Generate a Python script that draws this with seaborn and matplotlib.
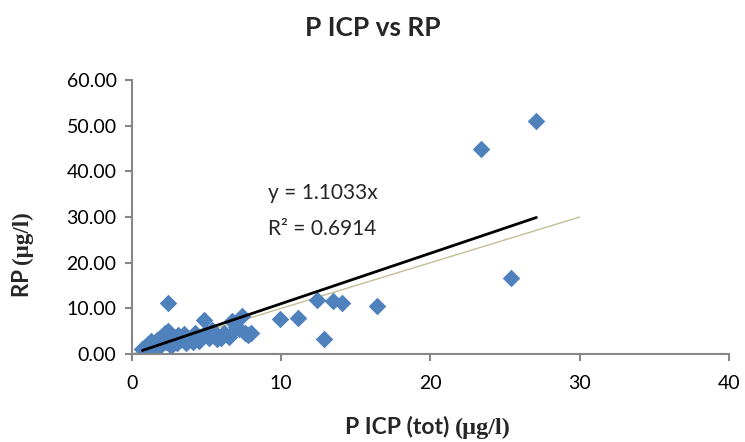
import numpy as np
import pandas as pd
import matplotlib
matplotlib.use("Agg")
import matplotlib.pyplot as plt
import seaborn as sns
from matplotlib.offsetbox import TextArea, HPacker, AnchoredOffsetbox

# data
p_icp = [0.7, 0.9, 1.0, 1.1, 1.2, 1.3, 1.4, 1.5, 1.6, 1.7, 1.8, 1.9, 2.0, 2.1, 2.2,
         2.3, 2.4, 2.5, 2.6, 2.8, 3.0, 3.1, 3.2, 3.4, 3.5, 3.6, 3.8, 4.0, 4.1, 4.2,
         4.4, 4.5, 4.7, 4.8, 5.0, 5.2, 5.4, 5.5, 5.7, 6.0, 6.2, 6.5, 6.7, 7.0, 7.2,
         7.4, 7.6, 7.8, 8.0, 2.4, 9.9, 11.1, 12.4, 13.5, 14.1, 16.4, 12.9, 23.4, 25.4, 27.1]
rp = [1.0, 1.5, 0.8, 2.2, 1.2, 2.8, 1.6, 0.9, 2.4, 3.0, 1.8, 3.5, 2.2, 4.0, 4.5,
      2.6, 5.0, 3.2, 1.8, 3.8, 2.5, 4.2, 3.0, 3.6, 4.4, 2.4, 3.2, 3.8, 2.6, 4.6,
      3.4, 2.8, 4.0, 7.5, 4.5, 3.6, 5.2, 4.0, 3.3, 3.5, 4.5, 3.8, 7.2, 6.0, 5.5,
      8.3, 4.5, 4.2, 4.6, 11.2, 7.7, 7.9, 11.8, 11.6, 11.1, 10.5, 3.4, 44.9, 16.6, 51.0]
slope = 1.1033
r2 = 0.6914
x_ticks = [0, 10, 20, 30, 40]
y_ticks = [0, 10, 20, 30, 40, 50, 60]
one_to_one_max = 30

df = pd.DataFrame({"x": p_icp, "y": rp})

sns.set_theme(style="white")
plt.rcParams['font.family'] = ['Lato', 'DejaVu Sans']
SERIF = ['Liberation Serif', 'DejaVu Serif']

fig = plt.figure(figsize=(7.45, 4.42), dpi=100)
ax = fig.add_axes([0.177, 0.199, 0.8015, 0.62])

# 1:1 line
ax.plot([0, one_to_one_max], [0, one_to_one_max], color="#c4bd97", lw=1, zorder=1)
sns.scatterplot(data=df, x="x", y="y", marker="D", s=80, color="#4F81BD",
                edgecolor="#4F81BD", linewidth=0, ax=ax, zorder=2)
xs = np.array([min(p_icp), max(p_icp)])
ax.plot(xs, slope * xs, color="black", lw=2, zorder=3)

ax.set_xlim(0, 40)
ax.set_ylim(0, 60)
ax.set_xticks(x_ticks)
ax.set_yticks(y_ticks)
ax.set_xticklabels([str(t) for t in x_ticks], fontsize=14)
ax.set_yticklabels([f"{t:.2f}" for t in y_ticks], fontsize=14)
for s in ["top", "right"]:
    ax.spines[s].set_visible(False)
for s in ["left", "bottom"]:
    ax.spines[s].set_color("#868686")
    ax.spines[s].set_linewidth(1.5)
ax.tick_params(axis="both", direction="out", length=5, width=1.5, color="#868686",
               left=True, bottom=True, labelcolor="black")
ax.tick_params(axis="x", pad=10)
ax.tick_params(axis="y", pad=6)
ax.set_xlabel("")
ax.set_ylabel("")

# x label: sans part + serif part
parts = HPacker(children=[
    TextArea("P ICP (tot) ", textprops=dict(fontsize=16.5, fontweight="bold")),
    TextArea("(µg/l)", textprops=dict(fontsize=17.5, fontweight="bold", family=SERIF)),
], align="baseline", pad=0, sep=0)
ab = AnchoredOffsetbox(loc="center", child=parts, frameon=False, pad=0, borderpad=0,
                       bbox_to_anchor=(0.575, 0.033), bbox_transform=fig.transFigure)
fig.add_artist(ab)

# y label: rotated, two fonts
t1 = fig.text(0.03, 1 - 297 / 442, "RP ", rotation=90, fontsize=16,
              fontweight="bold", ha="center", va="bottom")
fig.canvas.draw()
bb = t1.get_window_extent()
top_frac = bb.y1 / fig.bbox.height
fig.text(0.03, top_frac, "(µg/l)", rotation=90, fontsize=16.5, fontweight="bold",
         family=SERIF, ha="center", va="bottom")

fig.text(0.5, 1 - 28 / 442, "P ICP vs RP", ha="center", va="center", fontsize=19,
         fontweight="bold")

ax.text(9.1, 35.3, f"y = {slope}x", fontsize=15, va="center")
ax.text(9.1, 27.4, f"R² = {r2}", fontsize=15, va="center")

fig.savefig("out.png", dpi=100)
